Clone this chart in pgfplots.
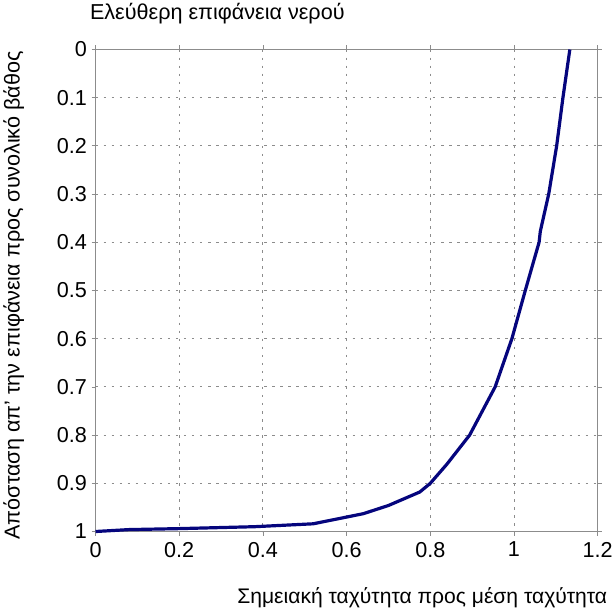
\documentclass[border=0pt]{standalone}
\usepackage{fontspec}
\setmainfont{Liberation Sans}
\usepackage{pgfplots}
\pgfplotsset{compat=1.18}
\definecolor{navy}{RGB}{5,5,125}
\definecolor{axgray}{RGB}{140,140,140}
\begin{document}
\begin{tikzpicture}
\begin{axis}[
  scale only axis, width=500bp, height=480bp,
  xmin=0, xmax=1.2, ymin=0, ymax=1, y dir=reverse,
  xtick={0,0.2,...,1.2}, ytick={0,0.1,...,1},
  /pgf/number format/assume math mode=true,
  /pgf/number format/fixed,
  xticklabel style={font=\fontsize{21.5bp}{24bp}\selectfont, yshift=-3bp},
  yticklabel style={font=\fontsize{21.5bp}{24bp}\selectfont, xshift=-1bp},
  tick align=outside, major tick length=4bp,
  tick style={axgray, thick},
  axis line style={axgray, thick},
  grid=major,
  major grid style={axgray, line width=0.9pt, dash pattern=on 2.5bp off 5.5bp},
  xlabel={Σημειακή ταχύτητα προς μέση ταχύτητα},
  xlabel style={at={(axis description cs:1.026,-0.15)}, anchor=base east, font=\fontsize{21bp}{24bp}\selectfont},
  ylabel={Απόσταση απ' την επιφάνεια προς συνολικό βάθος},
  ylabel style={at={(axis description cs:-0.163,0.49)}, anchor=center, font=\fontsize{21.5bp}{24bp}\selectfont},
  clip=false,
]
\addplot[navy, line width=3.2pt, line join=round] coordinates {
  (0,1) (0.08,0.996) (0.2,0.994) (0.38,0.99) (0.52,0.984) (0.6,0.97)
  (0.64,0.963) (0.7,0.946) (0.775,0.918) (0.8,0.9) (0.84,0.86)
  (0.894,0.8) (0.955,0.7) (0.995,0.6) (1.027,0.5) (1.06,0.4)
  (1.063,0.377) (1.083,0.3) (1.102,0.2) (1.117,0.1) (1.1335,0)
};
\node[anchor=base west, font=\fontsize{21.5bp}{24bp}\selectfont] at (axis description cs:-0.018,1.062) {Ελεύθερη επιφάνεια νερού};
\end{axis}
\end{tikzpicture}
\end{document}
